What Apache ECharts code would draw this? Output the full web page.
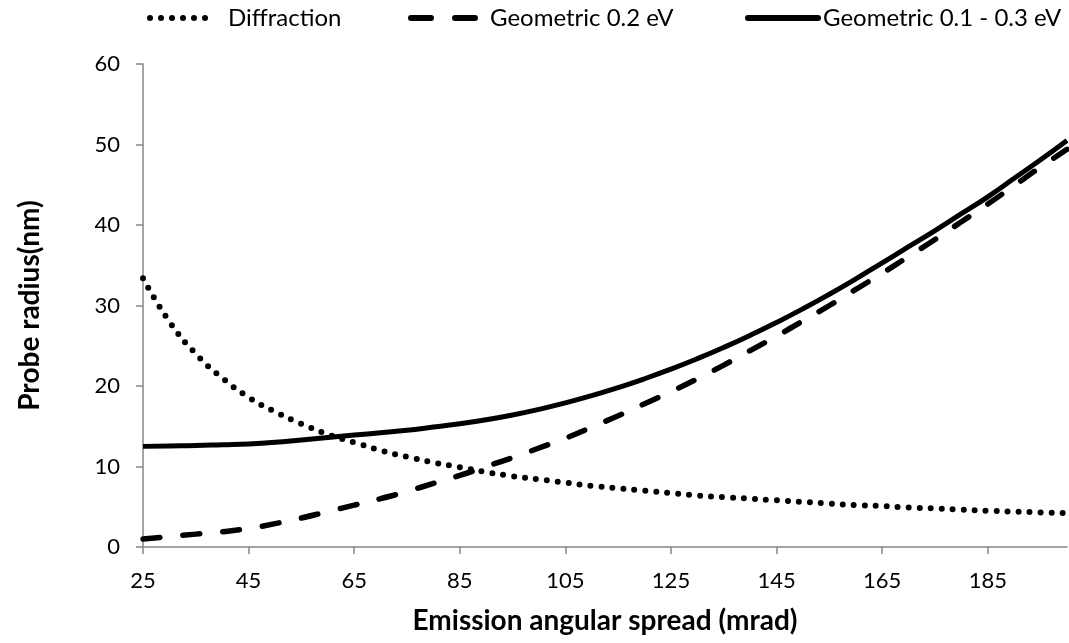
<!DOCTYPE html>
<html>
<head>
<meta charset="utf-8">
<script src="https://cdn.jsdelivr.net/npm/echarts@6/dist/echarts.min.js"></script>
<style>
  html, body { margin: 0; padding: 0; background: #fff; }
  #chart { width: 1069px; height: 643px; }
</style>
</head>
<body>
<div id="chart"></div>
<script>
// emission angular spread (mrad)
var angles = [25, 30, 35, 40, 45, 50, 55, 60, 65, 70, 75, 80, 85, 90, 95, 100, 105, 110,
              115, 120, 125, 130, 135, 140, 145, 150, 155, 160, 165, 170, 175, 180, 185, 190, 195, 200];
// probe radius (nm)
var diffraction = [33.4, 28.0, 24.0, 21.0, 18.6, 16.8, 15.3, 14.0, 13.0, 12.0, 11.2, 10.5,
                   9.9, 9.3, 8.8, 8.4, 8.0, 7.6, 7.3, 7.0, 6.7, 6.4, 6.2, 6.0,
                   5.8, 5.6, 5.4, 5.2, 5.1, 4.9, 4.8, 4.65, 4.5, 4.4, 4.3, 4.2];
var geo02 = [1.0, 1.3, 1.6, 1.9, 2.3, 2.9, 3.6, 4.4, 5.2, 6.0, 6.9, 7.9,
             8.9, 10.0, 11.1, 12.3, 13.5, 14.9, 16.3, 17.8, 19.3, 20.9, 22.6, 24.4,
             26.2, 28.1, 30.0, 32.0, 34.0, 36.1, 38.2, 40.4, 42.6, 44.9, 47.2, 49.4];
var geo0103 = [12.5, 12.55, 12.6, 12.7, 12.8, 13.0, 13.3, 13.6, 13.9, 14.2, 14.5, 14.9,
               15.3, 15.8, 16.4, 17.1, 17.9, 18.8, 19.8, 20.9, 22.1, 23.4, 24.8, 26.3,
               27.9, 29.6, 31.4, 33.3, 35.3, 37.3, 39.3, 41.4, 43.5, 45.8, 48.1, 50.5];
var xTicks = [25, 45, 65, 85, 105, 125, 145, 165, 185];
var seriesNames = ['Diffraction', 'Geometric 0.2 eV', 'Geometric 0.1 - 0.3 eV'];

var FONT = 'Lato';
var AXIS_GREY = '#868686';

var DOT = [0, 11];
var DASH = [17, 23];

function pairs(ys) {
  return angles.map(function (x, i) { return [x, ys[i]]; });
}

function legendFor(name, left, width, dash, gap) {
  return {
    top: 6,
    left: left,
    padding: 0,
    itemWidth: width,
    itemHeight: 14,
    data: [name],
    itemStyle: { opacity: 0 },
    lineStyle: { color: '#000', width: 6, type: dash, cap: 'round' },
    textStyle: { fontFamily: FONT, fontSize: 24, color: '#000', padding: [0, 0, 0, gap] }
  };
}

var chart = echarts.init(document.getElementById('chart'));

var option = {
  animation: false,
  backgroundColor: '#fff',
  legend: [
    legendFor(seriesNames[0], 147, 63, DOT, 10),
    legendFor(seriesNames[1], 408, 64, [20, 24], 10),
    legendFor(seriesNames[2], 745, 70, 'solid', 0)
  ],
  grid: { left: 143, right: 2, top: 64, bottom: 96, outerBoundsMode: 'none' },
  xAxis: {
    type: 'value',
    min: 25,
    max: 200,
    name: 'Emission angular spread (mrad)',
    nameLocation: 'middle',
    nameGap: 60,
    nameTextStyle: { fontFamily: FONT, fontSize: 28, fontWeight: 'bold', color: '#000' },
    axisLine: { onZero: false, lineStyle: { color: AXIS_GREY, width: 1.5 } },
    axisTick: { customValues: xTicks, length: 7, lineStyle: { color: AXIS_GREY, width: 1.5 } },
    axisLabel: { customValues: xTicks, margin: 23, fontFamily: FONT, fontSize: 22, color: '#000' },
    splitLine: { show: false }
  },
  yAxis: {
    type: 'value',
    min: 0,
    max: 60,
    interval: 10,
    name: 'Probe radius(nm)',
    nameLocation: 'middle',
    nameGap: 99,
    nameTextStyle: { fontFamily: FONT, fontSize: 28, fontWeight: 'bold', color: '#000' },
    axisLine: { show: true, lineStyle: { color: AXIS_GREY, width: 1.5 } },
    axisTick: { show: true, length: 7, lineStyle: { color: AXIS_GREY, width: 1.5 } },
    axisLabel: { margin: 23, fontFamily: FONT, fontSize: 22, color: '#000' },
    splitLine: { show: false }
  },
  series: [
    {
      name: seriesNames[0],
      type: 'line',
      data: pairs(diffraction),
      smooth: true,
      symbol: 'none',
      lineStyle: { color: '#000', width: 6, type: DOT, cap: 'round' },
      itemStyle: { color: '#000' }
    },
    {
      name: seriesNames[1],
      type: 'line',
      data: pairs(geo02),
      smooth: true,
      symbol: 'none',
      lineStyle: { color: '#000', width: 5.5, type: DASH, cap: 'round' },
      itemStyle: { color: '#000' }
    },
    {
      name: seriesNames[2],
      type: 'line',
      data: pairs(geo0103),
      smooth: true,
      symbol: 'none',
      lineStyle: { color: '#000', width: 5 },
      itemStyle: { color: '#000' }
    }
  ]
};

chart.setOption(option);
</script>
</body>
</html>
